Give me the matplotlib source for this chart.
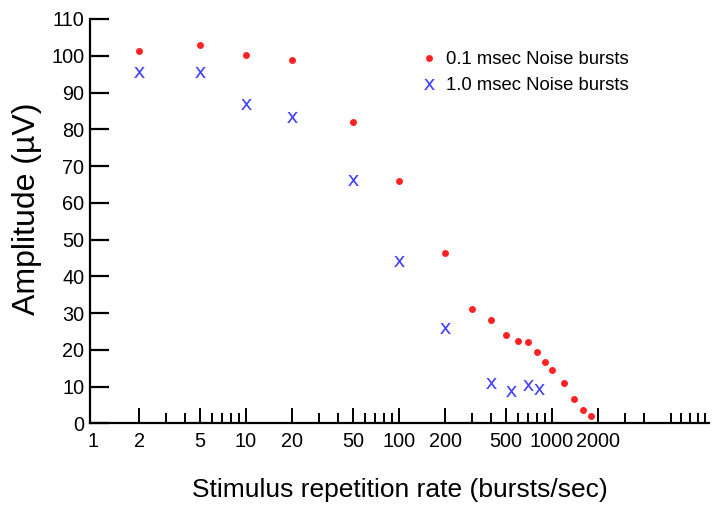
import matplotlib
matplotlib.use("Agg")
import matplotlib.pyplot as plt
from matplotlib.ticker import FixedLocator, NullFormatter

plt.rcParams['font.family'] = ['Liberation Sans', 'DejaVu Sans']

# Data
rate_01 = [2, 5, 10, 20, 50, 100, 200, 300, 400, 500, 600, 700, 800, 900, 1000,
           1200, 1400, 1600, 1800]
amp_01 = [101.4, 102.9, 100.3, 98.9, 82.1, 65.9, 46.2, 31.0, 28.1, 24.1, 22.3,
          22.1, 19.4, 16.7, 14.4, 11.0, 6.6, 3.7, 1.9]
rate_10 = [2, 5, 10, 20, 50, 100, 200, 400, 540, 700, 820]
amp_10 = [95.6, 95.6, 87.0, 83.3, 66.3, 44.1, 25.8, 11.1, 8.7, 10.4, 9.3]

major_ticks = [1, 2, 5, 10, 20, 50, 100, 200, 500, 1000, 2000]
major_labels = ['1', '2', '5', '10', '20', '50', '100', '200', '500', '1000', '2000']
minor_ticks = [m * d for d in (1, 10, 100, 1000) for m in range(3, 10) if m != 5] + [10000]
y_ticks = list(range(0, 111, 10))

label_01 = '0.1 msec Noise bursts'
label_10 = '1.0 msec Noise bursts'
xlabel = 'Stimulus repetition rate (bursts/sec)'
ylabel = 'Amplitude (\u00b5V)'

red = '#ff2222'
blue = '#4444ff'

fig = plt.figure(figsize=(7.12, 5.05), dpi=100)
ax = fig.add_axes([90 / 712, 1 - 423.3 / 505, 619 / 712, (423.3 - 19) / 505])

ax.plot(rate_01, amp_01, linestyle='none', marker='o', markersize=5,
        color=red, markeredgewidth=0, label=label_01)
ax.plot(rate_10, amp_10, linestyle='none', marker=r'$\mathrm{x}$', markersize=8,
        color=blue, markeredgewidth=0, label=label_10)

ax.set_xscale('log')
ax.set_xlim(0.955, 10620)
ax.set_ylim(0, 110)

ax.xaxis.set_major_locator(FixedLocator(major_ticks))
ax.set_xticklabels(major_labels)
ax.xaxis.set_minor_locator(FixedLocator(minor_ticks))
ax.xaxis.set_minor_formatter(NullFormatter())
ax.set_yticks(y_ticks)

for s in ('top', 'right'):
    ax.spines[s].set_visible(False)
for s in ('left', 'bottom'):
    ax.spines[s].set_linewidth(1.6)

ax.tick_params(axis='x', which='major', direction='in', length=11, width=1.4,
               labelsize=14.3, pad=6)
ax.tick_params(axis='x', which='minor', direction='in', length=7, width=1.4)
ax.tick_params(axis='y', which='major', direction='in', length=14, width=1.6,
               labelsize=14.3, pad=4)
ax.xaxis.get_major_ticks()[0].tick1line.set_visible(False)

ax.set_xlabel(xlabel, fontsize=19, labelpad=20)
ax.set_ylabel(ylabel, fontsize=23)
ax.yaxis.set_label_coords((42 - 90) / 619, (423.3 - 209) / 404.3)

leg = ax.legend(loc='upper left', bbox_to_anchor=(420 / 712, 1 - 51 / 505),
                bbox_transform=fig.transFigure, frameon=False, fontsize=13.3,
                handlelength=1.0, handletextpad=0.4, borderpad=0, borderaxespad=0,
                labelspacing=0.5)

fig.savefig('out.png', dpi=100)
